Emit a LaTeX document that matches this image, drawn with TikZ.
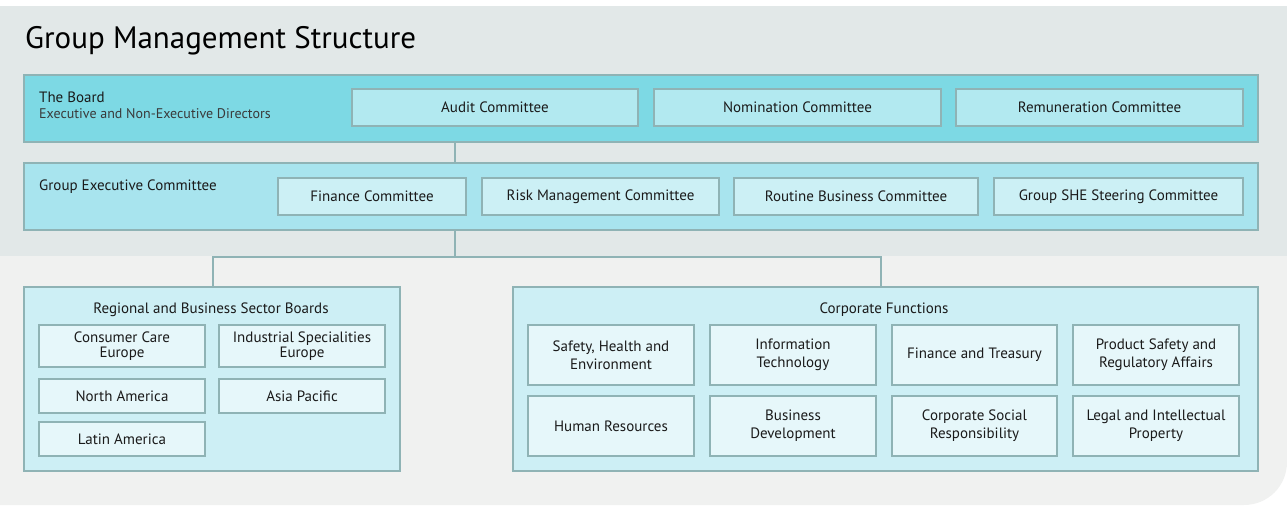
\documentclass[tikz,border=0pt]{standalone}
\usepackage{fontspec}
\setmainfont{PT Sans}
\definecolor{bandtop}{HTML}{E2E8E8}
\definecolor{bandlow}{HTML}{F0F1F0}
\definecolor{boardfill}{HTML}{7DD9E4}
\definecolor{boardin}{HTML}{B2E9F0}
\definecolor{gecfill}{HTML}{A8E4EE}
\definecolor{gecin}{HTML}{CCF0F5}
\definecolor{lowfill}{HTML}{CDEFF5}
\definecolor{lowin}{HTML}{E6F7FA}
\definecolor{edge}{HTML}{8FB3B5}
\definecolor{ink}{HTML}{1A1A1A}
\definecolor{inkgray}{HTML}{3A3A3A}
\newcommand{\bx}[7]{\node[#6, minimum width={#4pt-#2pt}, minimum height={#5pt-#3pt}] (#1) at ({(#2+#4)/2},{(#3+#5)/2}) {#7};}
\tikzset{
  x=1pt, y=-1pt,
  basebox/.style={draw=edge, line width=1.3pt, inner sep=0pt, outer sep=0pt, text=ink, align=center, font=\fontsize{15}{18}\selectfont},
  boardbox/.style={basebox, fill=boardfill},
  boardinner/.style={basebox, fill=boardin},
  gecbox/.style={basebox, fill=gecfill},
  gecinner/.style={basebox, fill=gecin},
  lowbox/.style={basebox, fill=lowfill},
  lowinner/.style={basebox, fill=lowin},
  reginner/.style={basebox, fill=lowin, font=\fontsize{15}{15.5}\selectfont},
  label/.style={inner sep=0pt, text=ink, font=\fontsize{15}{18}\selectfont},
  link/.style={draw=edge, line width=1.3pt}
}
\begin{document}
\begin{tikzpicture}
\useasboundingbox (0,0) rectangle (1287,507);
% backgrounds
\fill[bandlow] (0,256) -- (1287,256) -- (1287,462) .. controls (1287,486) and (1268,505) .. (1244,505) -- (0,505) -- cycle;
\fill[bandtop] (0,6) rectangle (1287,256);
% title
\node[inner sep=0pt, anchor=base west, text=black, font=\fontsize{31}{34}\selectfont] (title) at (25,48) {Group Management Structure};
% board
\bx{board}{24}{75}{1258}{142}{boardbox}{}
\node[label, anchor=base west] (boardt) at (39,102) {The Board};
\node[label, anchor=base west, text=inkgray, font=\fontsize{14}{17}\selectfont] (boards) at (39,118) {Executive and Non-Executive Directors};
\bx{audit}{352}{89}{638}{126}{boardinner}{Audit Committee}
\bx{nom}{654}{89}{941}{126}{boardinner}{Nomination Committee}
\bx{rem}{956}{89}{1243}{126}{boardinner}{Remuneration Committee}
% group executive committee
\bx{gec}{24}{163}{1258}{230}{gecbox}{}
\node[label, anchor=base west] (gect) at (39,190) {Group Executive Committee};
\bx{fin}{278}{178}{466}{215}{gecinner}{Finance Committee}
\bx{risk}{482}{178}{719}{215}{gecinner}{Risk Management Committee}
\bx{rout}{734}{178}{978}{215}{gecinner}{Routine Business Committee}
\bx{she}{994}{178}{1243}{215}{gecinner}{Group SHE Steering Committee}
% connectors
\coordinate (hub) at (455,257);
\coordinate (cl) at (213,257);
\coordinate (cr) at (881,257);
\draw[link] (board.south -| hub) -- (gec.north -| hub);
\draw[link] (gec.south -| hub) -- (hub);
% regional
\bx{reg}{24}{287}{400}{471}{lowbox}{}
\node[label, anchor=base] (regt) at (211,313) {Regional and Business Sector Boards};
\bx{cce}{39}{325}{205}{367}{reginner}{Consumer Care\\Europe}
\bx{ise}{219}{325}{385}{367}{reginner}{Industrial Specialities\\Europe}
\bx{na}{39}{379}{205}{413}{reginner}{North America}
\bx{ap}{219}{379}{385}{413}{reginner}{Asia Pacific}
\bx{la}{39}{422}{205}{456}{reginner}{Latin America}
% corporate
\bx{corp}{513}{287}{1258}{471}{lowbox}{}
\node[label, anchor=base] (corpt) at (884,313) {Corporate Functions};
\bx{she2}{528}{325}{694}{385}{lowinner}{Safety, Health and\\Environment}
\bx{it}{710}{325}{876}{385}{lowinner}{Information\\Technology}
\bx{ft}{892}{325}{1057}{385}{lowinner}{Finance and Treasury}
\bx{ps}{1073}{325}{1239}{385}{lowinner}{Product Safety and\\Regulatory Affairs}
\bx{hr}{528}{396}{694}{456}{lowinner}{Human Resources}
\bx{bd}{710}{396}{876}{456}{lowinner}{Business\\Development}
\bx{csr}{892}{396}{1057}{456}{lowinner}{Corporate Social\\Responsibility}
\bx{lip}{1073}{396}{1239}{456}{lowinner}{Legal and Intellectual\\Property}
% lower connectors
\draw[link] (reg.north -| cl) -- (cl) -- (cr) -- (corp.north -| cr);
\end{tikzpicture}
\end{document}
